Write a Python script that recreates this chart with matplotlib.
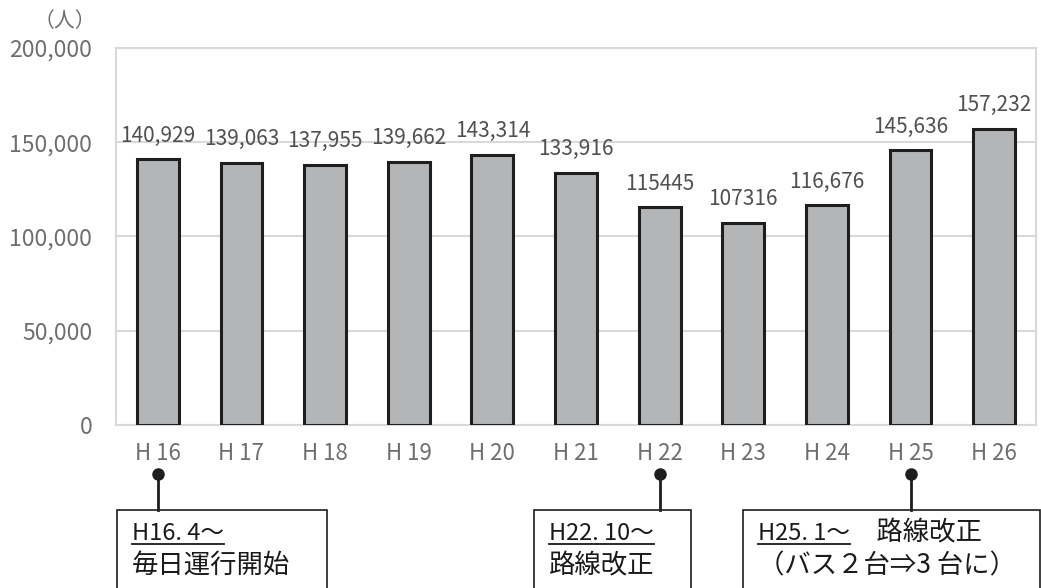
import matplotlib.pyplot as plt
import matplotlib.transforms as mtransforms
from matplotlib.patches import Rectangle
from matplotlib.lines import Line2D

plt.rcParams['font.family'] = ['Noto Sans CJK JP', 'DejaVu Sans']

years = ["H 16", "H 17", "H 18", "H 19", "H 20", "H 21",
         "H 22", "H 23", "H 24", "H 25", "H 26"]
riders = [140929, 139063, 137955, 139662, 143314, 133916,
          115445, 107316, 116676, 145636, 157232]
value_labels = ["140,929", "139,063", "137,955", "139,662", "143,314", "133,916",
                "115445", "107316", "116,676", "145,636", "157,232"]

# notes under the x axis: (category index, box left, box right, first line, second line)
notes = [
    (0, -0.49, 2.02, "H16. 4～", "毎日運行開始"),
    (6, 4.50, 6.37, "H22. 10～", "路線改正"),
    (9, 7.00, 10.55, "H25. 1～", "（バス２台⇒3 台に）"),
]
note_extra = {9: "　路線改正"}

grid_col = "#d9d9d9"
tick_col = "#6e6e6e"

fig = plt.figure(figsize=(10.41, 5.88), dpi=100)
ax = fig.add_axes([0.1114, 0.2772, 0.8838, 0.6412])

x = range(len(years))
ax.bar(x, riders, width=0.5, color="#b4b5b7", edgecolor="#1e1e1e",
       linewidth=2.2, zorder=3)

ax.set_xlim(-0.5, len(years) - 0.5)
ax.set_ylim(0, 200000)
ax.set_yticks([0, 50000, 100000, 150000, 200000])
ax.set_yticklabels(["0", "50,000", "100,000", "150,000", "200,000"])
ax.set_xticks(list(x))
ax.set_xticklabels(years)
ax.tick_params(axis="y", length=0, pad=17, labelsize=16.5, labelcolor=tick_col)
ax.tick_params(axis="x", length=0, pad=12, labelsize=16, labelcolor=tick_col)
ax.yaxis.grid(True, color=grid_col, linewidth=1.5, zorder=0)
for s in ax.spines.values():
    s.set_color(grid_col)
    s.set_linewidth(1.5)

for i, (v, lab) in enumerate(zip(riders, value_labels)):
    ax.annotate(lab, (i, v), xytext=(0, 9), textcoords="offset points",
                ha="center", va="bottom", fontsize=15, color="#505050")

fig.text(0.092, 0.965, "（人）", ha="right", va="center", fontsize=15, color=tick_col)

# callout boxes below the chart
tr = mtransforms.blended_transform_factory(ax.transData, fig.transFigure)
fig.canvas.draw()
renderer = fig.canvas.get_renderer()
for idx, left, right, head, body in notes:
    fig.add_artist(Line2D([idx, idx], [0.194, 0.133], transform=tr,
                          color="#1e1e1e", linewidth=2))
    fig.add_artist(Line2D([idx], [0.194], transform=tr, marker="o",
                          markersize=8, color="#1e1e1e"))
    fig.add_artist(Rectangle((left, -0.05), right - left, 0.183, transform=tr,
                             facecolor="white", edgecolor="#1e1e1e", linewidth=1.2))
    xt = mtransforms.offset_copy(tr, fig=fig, x=15, y=0, units="dots")
    t = fig.text(left, 0.093, head, transform=xt, ha="left", va="center",
                 fontsize=17, color="#1a1a1a")
    bb = t.get_window_extent(renderer)
    fig.add_artist(Line2D([bb.x0, bb.x1], [bb.y0 + 1, bb.y0 + 1],
                          transform=None, color="#1a1a1a", linewidth=1.3))
    if idx in note_extra:
        fig.text(bb.x1 / fig.dpi / fig.get_figwidth(), 0.093, note_extra[idx],
                 ha="left", va="center", fontsize=19, color="#1a1a1a")
    fig.text(left, 0.038, body, transform=xt, ha="left", va="center",
             fontsize=19, color="#1a1a1a")

fig.savefig("out.png", dpi=100)
